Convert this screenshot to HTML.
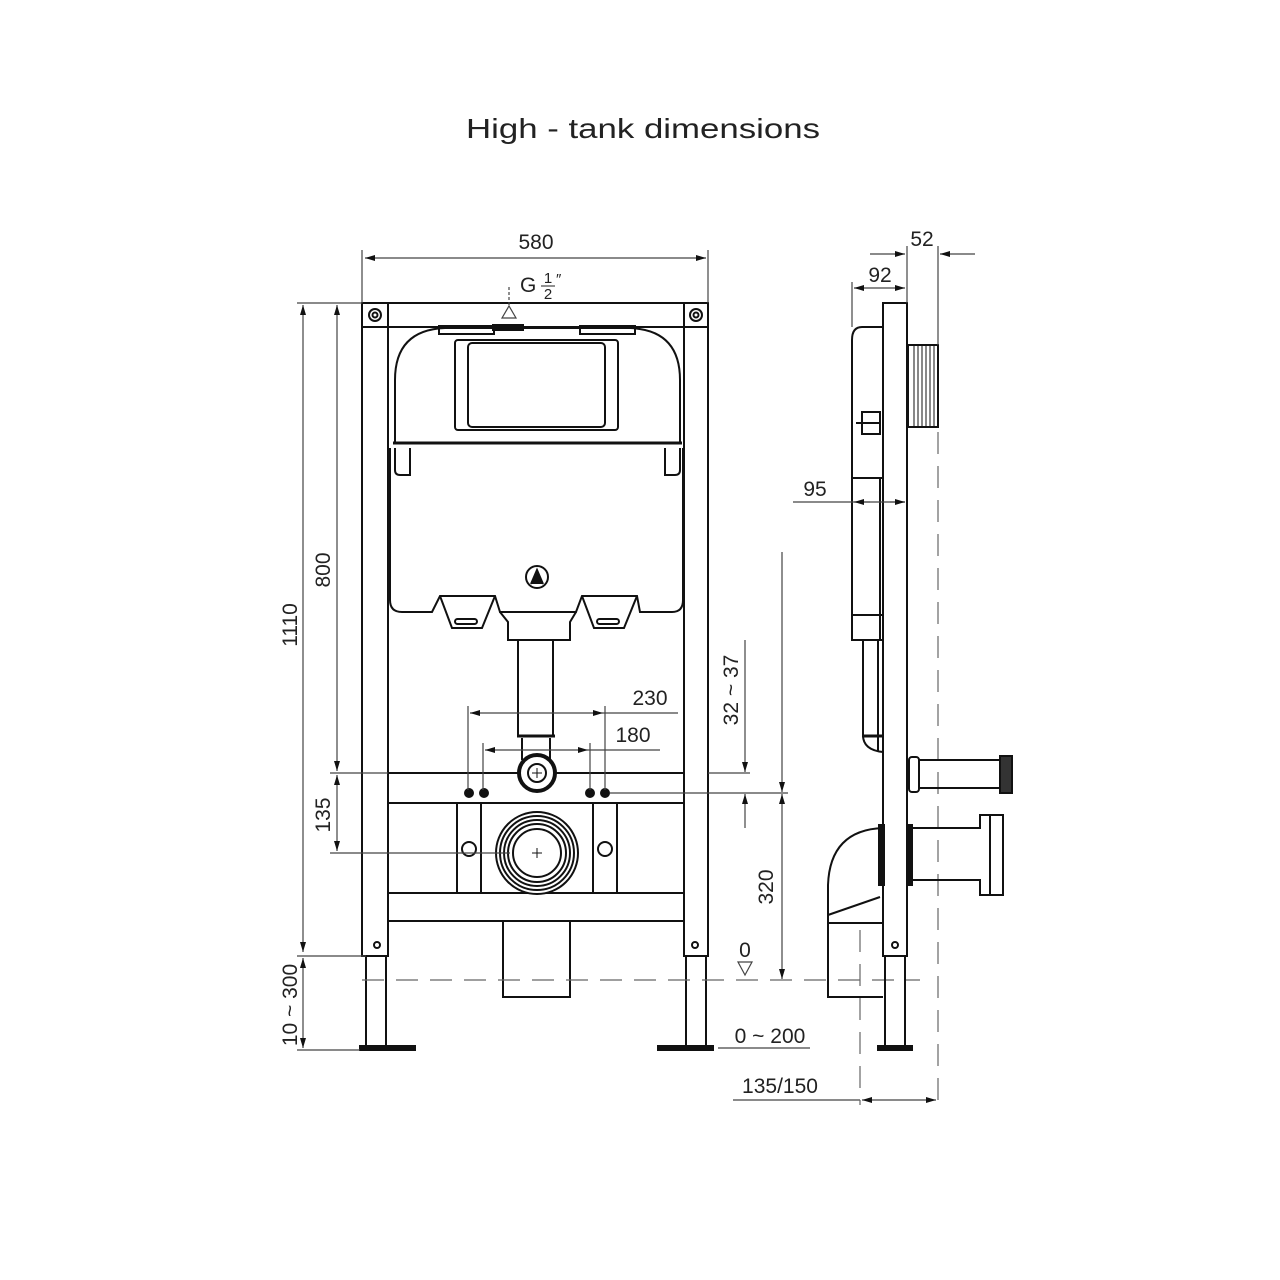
<!DOCTYPE html>
<html><head><meta charset="utf-8"><style>
html,body{margin:0;padding:0;background:#fff;}
svg{display:block;}
text{font-family:"Liberation Sans",sans-serif;fill:#222;}
</style></head><body>
<svg width="1280" height="1280" viewBox="0 0 1280 1280" xmlns="http://www.w3.org/2000/svg">
<defs>
<marker id="a" viewBox="0 0 10 6" refX="10" refY="3" markerWidth="10" markerHeight="6" orient="auto-start-reverse" markerUnits="userSpaceOnUse"><path d="M0,0 L10,3 L0,6z" fill="#111"/></marker>
</defs>
<text x="643" y="138" font-size="28" text-anchor="middle" fill="#111" style="font-family:'Liberation Sans',sans-serif" textLength="354" lengthAdjust="spacingAndGlyphs">High - tank dimensions</text>

<g fill="none" stroke="#111" stroke-width="2">
<rect x="362" y="303" width="346" height="24" fill="#fff"/>
<rect x="362" y="303" width="26" height="653"/>
<rect x="684" y="303" width="24" height="653"/>
<line x1="388" y1="327" x2="684" y2="327"/>
<circle cx="375" cy="315" r="6"/><circle cx="375" cy="315" r="2.5"/>
<circle cx="696" cy="315" r="6"/><circle cx="696" cy="315" r="2.5"/>
<rect x="366" y="956" width="20" height="90"/>
<rect x="686" y="956" width="20" height="90"/>
<rect x="360" y="1046" width="55" height="4" fill="#111"/>
<rect x="658" y="1046" width="55" height="4" fill="#111"/>
<circle cx="377" cy="945" r="3"/><circle cx="695" cy="945" r="3"/>
<path d="M395,443 L395,380 Q395,330 445,328 L630,328 Q680,330 680,380 L680,443 Z"/>
<line x1="393" y1="443" x2="682" y2="443" stroke-width="3"/>
<rect x="455" y="340" width="163" height="90" rx="3"/>
<rect x="468" y="343" width="137" height="84" rx="4"/>
<rect x="439" y="326" width="55" height="8" /><rect x="580" y="326" width="55" height="8"/>
<rect x="493" y="325" width="30" height="5" fill="#111"/>
<path d="M390,448 L390,600 Q390,612 402,612 L432,612 L440,596 L495,596 L500,612 L576,612 L582,596 L637,596 L640,612 L672,612 Q683,612 683,600 L683,448"/>
<path d="M395,448 L395,470 Q395,475 400,475 L410,475 L410,448"/>
<path d="M680,448 L680,470 Q680,475 675,475 L665,475 L665,448"/>
<path d="M440,596 L452,628 L482,628 L495,596"/>
<path d="M582,596 L594,628 L624,628 L637,596"/>
<rect x="455" y="619" width="22" height="5" rx="2.5"/><rect x="597" y="619" width="22" height="5" rx="2.5"/>
<path d="M500,612 L508,622 L508,640 L570,640 L570,622 L576,612"/>
<circle cx="537" cy="577" r="11"/><path d="M531,584 L537,570 L543,584" fill="#111"/>
<line x1="518" y1="640" x2="518" y2="737"/><line x1="553" y1="640" x2="553" y2="737"/>
<line x1="517" y1="736" x2="555" y2="736" stroke-width="3"/>
<line x1="522" y1="738" x2="522" y2="760"/><line x1="550" y1="738" x2="550" y2="760"/>
<circle cx="537" cy="773" r="18" fill="#fff" stroke-width="4"/>
<circle cx="537" cy="773" r="9"/>
<line x1="388" y1="773" x2="519" y2="773"/><line x1="555" y1="773" x2="684" y2="773"/>
<rect x="388" y="803" width="296" height="90"/>
<rect x="388" y="893" width="296" height="28"/>
<rect x="457" y="803" width="24" height="90"/><rect x="593" y="803" width="24" height="90"/>
<circle cx="469" cy="849" r="7"/><circle cx="605" cy="849" r="7"/>
<circle cx="537" cy="853" r="41" fill="#fff"/>
<circle cx="537" cy="853" r="37"/><circle cx="537" cy="853" r="33"/><circle cx="537" cy="853" r="29"/>
<circle cx="537" cy="853" r="24"/>
<rect x="503" y="921" width="67" height="76"/>
<circle cx="469" cy="793" r="4" fill="#111"/><circle cx="484" cy="793" r="4" fill="#111"/>
<circle cx="590" cy="793" r="4" fill="#111"/><circle cx="605" cy="793" r="4" fill="#111"/>
</g>
<g stroke="#111" stroke-width="1">
<line x1="532" y1="853" x2="542" y2="853"/><line x1="537" y1="848" x2="537" y2="858"/>
<line x1="532" y1="773" x2="542" y2="773"/><line x1="537" y1="768" x2="537" y2="778"/>
</g>

<g stroke="#444" stroke-width="1.2" fill="none">
<line x1="362" y1="250" x2="362" y2="303"/><line x1="708" y1="250" x2="708" y2="303"/>
<line x1="365" y1="258" x2="706" y2="258" marker-start="url(#a)" marker-end="url(#a)"/>
<line x1="297" y1="303" x2="362" y2="303"/>
<line x1="303" y1="305" x2="303" y2="952" marker-start="url(#a)" marker-end="url(#a)"/>
<line x1="337" y1="305" x2="337" y2="771" marker-start="url(#a)" marker-end="url(#a)"/>
<line x1="330" y1="773" x2="388" y2="773"/>
<line x1="337" y1="775" x2="337" y2="851" marker-start="url(#a)" marker-end="url(#a)"/>
<line x1="330" y1="853" x2="510" y2="853"/>
<line x1="297" y1="956" x2="366" y2="956"/>
<line x1="303" y1="958" x2="303" y2="1048" marker-start="url(#a)" marker-end="url(#a)"/>
<line x1="297" y1="1050" x2="360" y2="1050"/>
<line x1="468" y1="706" x2="468" y2="790"/><line x1="605" y1="706" x2="605" y2="790"/>
<line x1="470" y1="713" x2="603" y2="713" marker-start="url(#a)" marker-end="url(#a)"/>
<line x1="603" y1="713" x2="678" y2="713"/>
<line x1="483" y1="743" x2="483" y2="790"/><line x1="590" y1="743" x2="590" y2="790"/>
<line x1="485" y1="750" x2="588" y2="750" marker-start="url(#a)" marker-end="url(#a)"/>
<line x1="588" y1="750" x2="660" y2="750"/>
<line x1="708" y1="773" x2="750" y2="773"/>
<line x1="610" y1="793" x2="788" y2="793"/>
<line x1="745" y1="640" x2="745" y2="772" marker-end="url(#a)"/>
<line x1="745" y1="828" x2="745" y2="794" marker-end="url(#a)"/>
<line x1="782" y1="552" x2="782" y2="792" marker-end="url(#a)"/>
<line x1="782" y1="794" x2="782" y2="979" marker-start="url(#a)" marker-end="url(#a)"/>
<path d="M738,962 L752,962 L745,975 Z"/>
<line x1="718" y1="1048" x2="810" y2="1048"/>
<line x1="733" y1="1100" x2="860" y2="1100"/>
<line x1="862" y1="1100" x2="936" y2="1100" marker-start="url(#a)" marker-end="url(#a)"/>
<path d="M502,318 L516,318 L509,306 Z"/>
<path d="M509,305 L509,285" stroke-dasharray="3,2"/>
</g>
<g stroke="#666" stroke-width="1.2" fill="none" stroke-dasharray="22,12">
<line x1="362" y1="980" x2="920" y2="980"/>
<line x1="938" y1="432" x2="938" y2="1100"/>
<line x1="860" y1="930" x2="860" y2="1105"/>
</g>

<g fill="none" stroke="#111" stroke-width="2">
<rect x="883" y="303" width="24" height="653" fill="#fff"/>
<rect x="885" y="956" width="20" height="90"/>
<rect x="878" y="1046" width="34" height="4" fill="#111"/>
<circle cx="895" cy="945" r="3"/>
<path d="M883,327 L862,327 Q852,327 852,340 L852,640 L883,640"/>
<line x1="852" y1="478" x2="883" y2="478"/><line x1="852" y1="615" x2="883" y2="615"/>
<line x1="880" y1="478" x2="880" y2="640"/>
<rect x="862" y="412" width="18" height="22"/><line x1="856" y1="423" x2="880" y2="423"/>
<rect x="908" y="345" width="30" height="82" fill="#fff"/>
<g stroke-width="1"><line x1="914" y1="345" x2="914" y2="427"/><line x1="918" y1="345" x2="918" y2="427"/><line x1="922" y1="345" x2="922" y2="427"/><line x1="926" y1="345" x2="926" y2="427"/><line x1="930" y1="345" x2="930" y2="427"/><line x1="934" y1="345" x2="934" y2="427"/></g>
<path d="M863,640 L863,735 Q863,750 883,752"/><line x1="878" y1="640" x2="878" y2="752"/>
<line x1="862" y1="736" x2="883" y2="736" stroke-width="3"/>
<rect x="909" y="757" width="10" height="35" rx="3"/>
<path d="M919,760 L1003,760 M919,788 L1003,788"/>
<rect x="1000" y="756" width="12" height="37" fill="#333"/>
<path d="M883,828 Q830,830 828,885 L828,997 L883,997"/>
<path d="M828,915 L880,897"/><line x1="828" y1="923" x2="883" y2="923"/>
<rect x="879" y="825" width="5" height="60" fill="#111"/>
<rect x="907" y="825" width="5" height="60" fill="#111"/>
<path d="M912,828 L980,828 L980,815 L1003,815 L1003,895 L980,895 L980,880 L912,880"/>
<line x1="990" y1="815" x2="990" y2="895"/>
</g>
<g stroke="#444" stroke-width="1.2" fill="none">
<line x1="907" y1="246" x2="907" y2="303"/><line x1="938" y1="246" x2="938" y2="345"/>
<line x1="870" y1="254" x2="905" y2="254" marker-end="url(#a)"/>
<line x1="975" y1="254" x2="940" y2="254" marker-end="url(#a)"/>
<line x1="852" y1="282" x2="852" y2="327"/>
<line x1="854" y1="288" x2="905" y2="288" marker-start="url(#a)" marker-end="url(#a)"/>
<line x1="793" y1="502" x2="905" y2="502"/>
<line x1="870" y1="502" x2="854" y2="502" marker-end="url(#a)"/>
<line x1="890" y1="502" x2="905" y2="502" marker-end="url(#a)"/>
</g>

<g font-size="21">
<text x="536" y="249" text-anchor="middle">580</text>
<text x="520" y="292">G</text>
<text x="548" y="283" font-size="15" text-anchor="middle">1</text>
<line x1="541" y1="286" x2="555" y2="286" stroke="#222" stroke-width="1"/>
<text x="548" y="299" font-size="15" text-anchor="middle">2</text>
<text x="556" y="284" font-size="15">″</text>
<text x="922" y="246" text-anchor="middle">52</text>
<text x="880" y="282" text-anchor="middle">92</text>
<text x="815" y="496" text-anchor="middle">95</text>
<text x="650" y="705" text-anchor="middle">230</text>
<text x="633" y="742" text-anchor="middle">180</text>
<text x="745" y="957" text-anchor="middle">0</text>
<text x="770" y="1043" text-anchor="middle">0 ~ 200</text>
<text x="780" y="1093" text-anchor="middle">135/150</text>
<text transform="translate(297,625) rotate(-90)" text-anchor="middle">1110</text>
<text transform="translate(330,570) rotate(-90)" text-anchor="middle">800</text>
<text transform="translate(330,815) rotate(-90)" text-anchor="middle">135</text>
<text transform="translate(297,1005) rotate(-90)" text-anchor="middle">10 ~ 300</text>
<text transform="translate(738,690) rotate(-90)" text-anchor="middle">32 ~ 37</text>
<text transform="translate(773,887) rotate(-90)" text-anchor="middle">320</text>
</g>
</svg>
</body></html>
